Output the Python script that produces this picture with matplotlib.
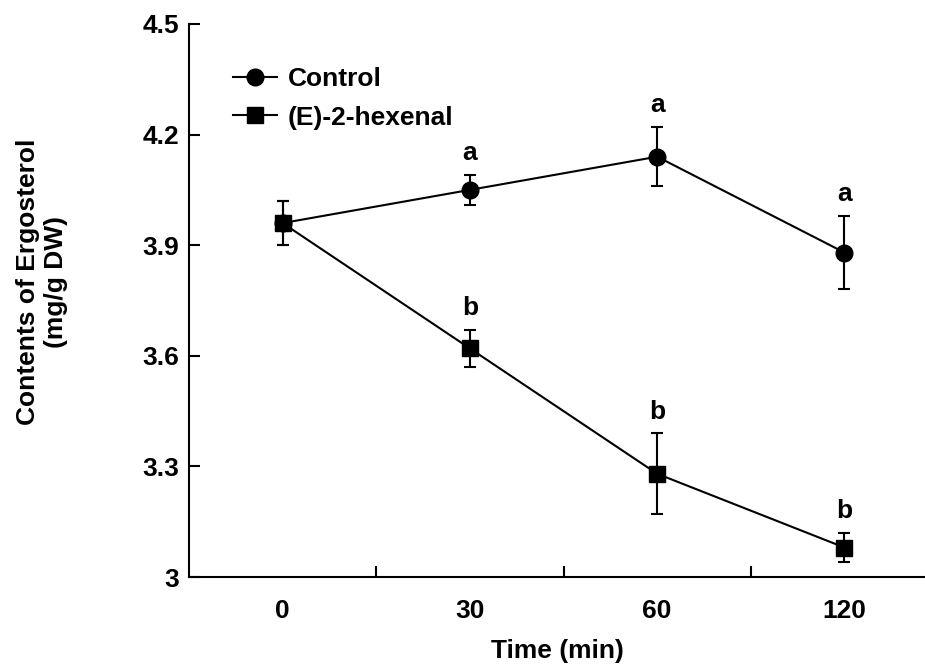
import matplotlib
matplotlib.use("Agg")
import matplotlib.pyplot as plt
from matplotlib.ticker import FixedLocator, FuncFormatter

plt.rcParams['font.family'] = ['Liberation Sans', 'DejaVu Sans']
plt.rcParams['font.weight'] = 'bold'

# data
times = ['0', '30', '60', '120']
control = [3.96, 4.05, 4.14, 3.88]
control_err = [0.06, 0.04, 0.08, 0.10]
hexenal = [3.96, 3.62, 3.28, 3.08]
hexenal_err = [0.06, 0.05, 0.11, 0.04]
control_letters = ['', 'a', 'a', 'a']
hexenal_letters = ['', 'b', 'b', 'b']

x = list(range(len(times)))
fs = 19

fig = plt.figure(figsize=(9.25, 6.66), dpi=100)
ax = fig.add_axes([0.2043, 0.1336, 0.7957, 0.8304])

ax.errorbar(x, control, yerr=control_err, fmt='none', ecolor='black',
            elinewidth=1.5, capsize=4, capthick=1.5, zorder=2)
ax.errorbar(x, hexenal, yerr=hexenal_err, fmt='none', ecolor='black',
            elinewidth=1.5, capsize=4, capthick=1.5, zorder=2)
ax.plot(x, control, color='black', marker='o', markersize=12, linewidth=1.5,
        label='Control', zorder=3)
ax.plot(x, hexenal, color='black', marker='s', markersize=11.5, linewidth=1.5,
        label='(E)-2-hexenal', zorder=4)

for xi, v, e, t in zip(x, control, control_err, control_letters):
    if t:
        ax.annotate(t, (xi, v + e), xytext=(0, 7), textcoords='offset points',
                    ha='center', va='bottom', fontsize=fs, fontweight='bold')
for xi, v, e, t in zip(x, hexenal, hexenal_err, hexenal_letters):
    if t:
        ax.annotate(t, (xi, v + e), xytext=(0, 7), textcoords='offset points',
                    ha='center', va='bottom', fontsize=fs, fontweight='bold')

ax.set_xlim(-0.5, 3.43)
ax.set_ylim(3, 4.5)
ax.set_yticks([3, 3.3, 3.6, 3.9, 4.2, 4.5])
ax.yaxis.set_major_formatter(FuncFormatter(lambda v, _: '3' if abs(v - 3) < 1e-9 else f'{v:.1f}'))
ax.set_xticks(x)
ax.set_xticklabels(times)
ax.xaxis.set_minor_locator(FixedLocator([0.5, 1.5, 2.5]))
ax.tick_params(axis='x', which='major', length=0, pad=16, labelsize=fs)
ax.tick_params(axis='x', which='minor', direction='in', length=8, width=1.5)
ax.tick_params(axis='y', direction='in', length=8, width=1.5, pad=7, labelsize=fs)

for s in ['top', 'right']:
    ax.spines[s].set_visible(False)
for s in ['left', 'bottom']:
    ax.spines[s].set_linewidth(1.5)

ax.set_xlabel('Time (min)', fontsize=fs, fontweight='bold', labelpad=11)
ax.set_ylabel('Contents of Ergosterol\n(mg/g DW)', fontsize=fs, fontweight='bold')
ax.yaxis.set_label_coords(-0.165, 0.534)

leg = ax.legend(loc='upper left', bbox_to_anchor=(0.027, 0.965), frameon=False, fontsize=fs,
                handlelength=1.7, handletextpad=0.4, labelspacing=0.55)

fig.savefig('out.png', dpi=100)
